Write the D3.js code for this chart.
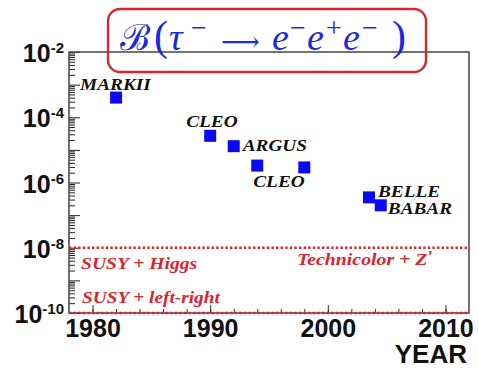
<!DOCTYPE html>
<html><head><meta charset="utf-8">
<script src="https://cdn.jsdelivr.net/npm/d3@7"></script>
<style>body{margin:0;background:#fff}svg{display:block}</style>
</head><body>
<svg id="c" width="479" height="368"></svg>
<script>
// ---- data ----
const experiments = ["MARKII","CLEO","ARGUS","CLEO","CLEO","BELLE","BABAR"];
const years = [1982, 1990, 1992, 1994, 1998, 2003.5, 2004.5];
const limits = [4e-4, 2.7e-5, 1.3e-5, 3.3e-6, 2.9e-6, 3.5e-7, 2.0e-7];
const xTickLabels = [1980, 1990, 2000, 2010];
const yTickExponents = [-2, -4, -6, -8, -10];
const modelLevels = [1e-8, 1e-10];
const modelLabels = [["SUSY + Higgs", "Technicolor + Z"], ["SUSY + left-right"]];

// ---- layout ----
const svg = d3.select("#c");
const L = 69, R = 469, T = 52, B = 313;
const x = d3.scaleLinear().domain([1978, 2012]).range([L, R]);
const y = d3.scaleLog().domain([1e-10, 1e-2]).range([B, T]);
const frameCol = "#505050", red = "#e0222c", blue = "#0a0af0";

// minor/major y ticks (pointing inward)
const yMajor = d3.range(-10, -1).map(e => Math.pow(10, e));
const yMinor = [];
d3.range(-10, -2).forEach(e => { for (let k = 2; k <= 9; k++) yMinor.push(k * Math.pow(10, e)); });
const gy1 = svg.append("g").attr("transform", `translate(${L},0)`)
  .call(d3.axisRight(y).tickValues(yMinor).tickSize(6).tickFormat(""));
const gy2 = svg.append("g").attr("transform", `translate(${L},0)`)
  .call(d3.axisRight(y).tickValues(yMajor).tickSize(11).tickFormat(""));
[gy1, gy2].forEach(g => { g.select(".domain").remove(); g.selectAll("line").attr("stroke", "#222").attr("stroke-width", 1); });

// x ticks (pointing up)
const gx1 = svg.append("g").attr("transform", `translate(0,${B})`)
  .call(d3.axisTop(x).tickValues(d3.range(1980, 2012, 2)).tickSize(4).tickFormat(""));
const gx2 = svg.append("g").attr("transform", `translate(0,${B})`)
  .call(d3.axisTop(x).tickValues(xTickLabels).tickSize(8).tickFormat(""));
[gx1, gx2].forEach(g => { g.select(".domain").remove(); g.selectAll("line").attr("stroke", "#333").attr("stroke-width", 1); });

// frame
svg.append("rect").attr("x", L).attr("y", T).attr("width", R - L).attr("height", B - T)
  .attr("fill", "none").attr("stroke", frameCol).attr("stroke-width", 1.6);

// x tick labels
const gxl = svg.append("g").attr("transform", `translate(0,${B})`)
  .call(d3.axisBottom(x).tickValues(xTickLabels).tickSize(0).tickPadding(24).tickFormat(d3.format("d")));
gxl.select(".domain").remove();
gxl.selectAll("text").attr("font-family", "Liberation Sans, Arial, sans-serif")
  .attr("font-weight", "bold").attr("font-size", 25).attr("fill", "#111").attr("dy", 0);

// y tick labels 10^e
yTickExponents.forEach(e => {
  const t = svg.append("text").attr("x", 64).attr("y", y(Math.pow(10, e)) + 10)
    .attr("text-anchor", "end").attr("font-family", "Liberation Sans, Arial, sans-serif")
    .attr("font-weight", "bold").attr("fill", "#111");
  t.append("tspan").attr("font-size", 25).text("10");
  t.append("tspan").attr("font-size", 15).attr("dy", -9).text("-" + (-e));
});

// axis title
svg.append("text").attr("x", 467).attr("y", 363).attr("text-anchor", "end")
  .attr("font-family", "Liberation Sans, Arial, sans-serif").attr("font-weight", "bold")
  .attr("font-size", 26).attr("fill", "#111").text("YEAR");

// model lines
svg.selectAll("line.model").data(modelLevels).enter().append("line")
  .attr("x1", L).attr("x2", R).attr("y1", d => y(d)).attr("y2", d => y(d))
  .attr("stroke", red).attr("stroke-width", 2.6).attr("stroke-dasharray", "2.4,2.2");

// stretched serif label helper
function label(txt, px, py, col, sup, sx) {
  const g = svg.append("g").attr("transform", `translate(${px},${py}) scale(${sx || 1.17},1)`);
  const t = g.append("text").attr("font-family", "Liberation Serif, Times New Roman, serif")
    .attr("font-weight", "bold").attr("font-style", "italic").attr("font-size", 16.5).attr("fill", col);
  t.append("tspan").text(txt);
  if (sup) t.append("tspan").attr("dy", -3).attr("font-size", 17).attr("font-style", "normal").text(sup);
}
label(modelLabels[0][0], 81, y(modelLevels[0]) + 21, red, null, 1.19);
label(modelLabels[0][1], 297, y(modelLevels[0]) + 17, red, "'", 1.2);
label(modelLabels[1][0], 82, y(modelLevels[1]) - 10, red);

// markers
const S = 12;
svg.selectAll("rect.pt").data(years).enter().append("rect")
  .attr("x", (d) => x(d) - S / 2).attr("y", (d, i) => y(limits[i]) - S / 2)
  .attr("width", S).attr("height", S).attr("fill", blue);

// experiment labels (offsets from marker centers)
const off = [[-36, -8], [-24, -9], [9, 5], [-4, 21], [0, 0], [9, 0], [7, 9]];
experiments.forEach((name, i) => {
  if (i === 4) return; // single CLEO label shared by 1994/1998 points
  label(name, x(years[i]) + off[i][0], y(limits[i]) + off[i][1], "#111");
});

// title box
svg.append("rect").attr("x", 108).attr("y", 9).attr("width", 318).attr("height", 63).attr("rx", 12)
  .attr("fill", "none").attr("stroke", "#d8262e").attr("stroke-width", 2.4);
const serif = "Liberation Serif, serif";
const tt = svg.append("text").attr("font-family", serif).attr("font-size", 38).attr("fill", "#1a2ae0");
const glyphs = [
  // [text, x, y, size, italic, family]
  ["ℬ", 120, 50, 36, false, serif],
  ["(", 154, 50, 42, false, serif],
  ["τ", 169, 50, 38, true, serif],
  ["−", 191, 37, 28, false, serif],
  ["⟶", 221, 51, 27, false, "DejaVu Serif, serif"],
  ["e", 272, 50, 38, true, serif],
  ["−", 290, 37, 28, false, serif],
  ["e", 307, 50, 38, true, serif],
  ["+", 326, 37, 28, false, serif],
  ["e", 343, 50, 38, true, serif],
  ["−", 362, 37, 28, false, serif],
  [")", 392, 50, 42, false, serif]
];
glyphs.forEach(g => {
  tt.append("tspan").attr("x", g[1]).attr("y", g[2]).attr("font-size", g[3])
    .attr("font-style", g[4] ? "italic" : "normal").attr("font-family", g[5]).text(g[0]);
});
</script>
</body></html>
